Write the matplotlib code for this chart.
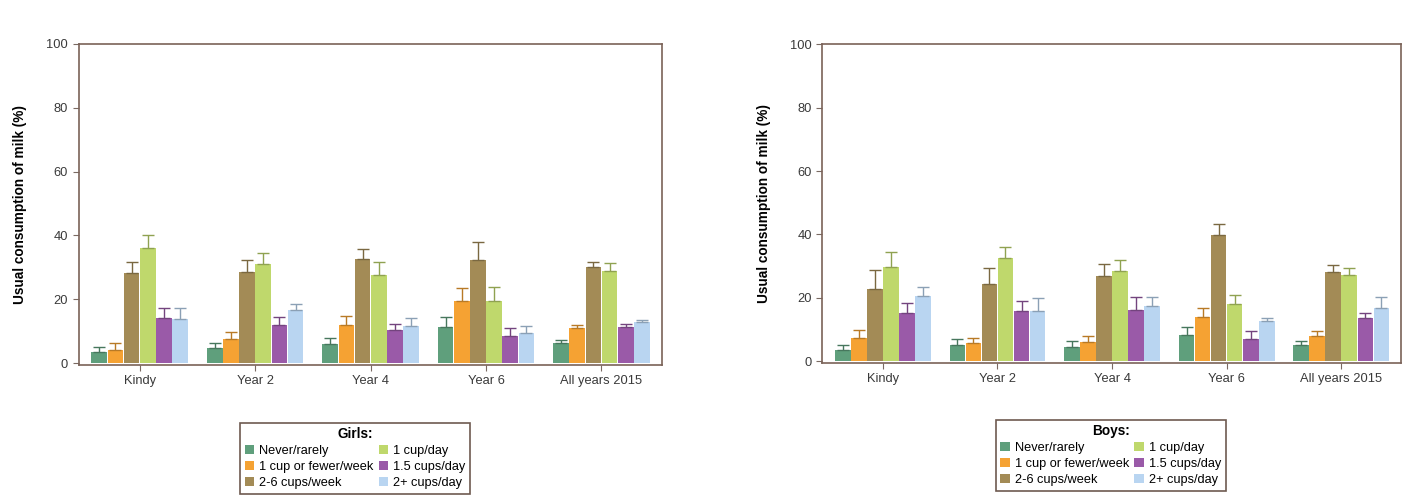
import matplotlib.pyplot as plt
import numpy as np
import matplotlib.colors as mcolors

plt.rcParams['font.family'] = ['Liberation Sans', 'DejaVu Sans']

groups = ["Kindy", "Year 2", "Year 4", "Year 6", "All years 2015"]
labels = ["Never/rarely", "1 cup or fewer/week", "2-6 cups/week",
          "1 cup/day", "1.5 cups/day", "2+ cups/day"]
colors = ["#5f9f7c", "#f5a233", "#a38b56", "#bfd86c", "#9a5aa8", "#b9d5f1"]

# girls, one list per milk category (values across the 5 groups)
girls = [
    [3.5, 4.6, 6.0, 11.2, 6.4],
    [4.2, 7.7, 11.9, 19.4, 10.9],
    [28.2, 28.4, 32.6, 32.3, 30.2],
    [36.0, 30.9, 27.6, 19.4, 28.8],
    [14.2, 11.8, 10.3, 8.5, 11.4],
    [13.8, 16.6, 11.6, 9.3, 12.9],
]
girls_err = [
    [1.6, 1.8, 2.0, 3.3, 0.8],
    [2.2, 2.0, 2.8, 4.2, 1.0],
    [3.6, 4.0, 3.0, 5.7, 1.6],
    [4.0, 3.5, 4.0, 4.5, 2.4],
    [3.0, 2.7, 2.0, 2.4, 1.0],
    [3.5, 2.0, 2.4, 2.3, 0.6],
]

boys = [
    [3.4, 5.2, 4.5, 8.4, 5.2],
    [7.3, 5.8, 6.0, 13.8, 8.0],
    [22.7, 24.4, 26.9, 39.7, 28.2],
    [29.8, 32.7, 28.5, 18.1, 27.2],
    [15.2, 15.7, 16.0, 7.0, 13.6],
    [20.6, 15.8, 17.5, 12.8, 16.7],
]
boys_err = [
    [1.8, 1.8, 2.0, 2.4, 1.3],
    [2.4, 1.5, 2.0, 3.1, 1.4],
    [6.0, 4.9, 3.9, 3.7, 2.1],
    [4.7, 3.3, 3.4, 2.8, 2.1],
    [3.3, 3.4, 4.2, 2.4, 1.6],
    [2.9, 4.1, 2.7, 0.8, 3.5],
]


def darker(c, f=0.75):
    r, g, b = mcolors.to_rgb(c)
    return (r * f, g * f, b * f)


def draw_panel(ax, values, errors, title, legend_x, legend_y):
    x = np.arange(len(groups))
    w = 0.14
    bars = []
    for i in range(len(labels)):
        pos = x + (i - 2.5) * w
        b = ax.bar(pos, values[i], w * 0.97, color=colors[i], label=labels[i], zorder=2)
        bars.append(b)
        ax.errorbar(pos, values[i], yerr=[np.zeros(len(groups)), errors[i]],
                    fmt="none", ecolor=darker(colors[i]), elinewidth=1,
                    capsize=4, capthick=1, zorder=3)
    ax.set_xlim(-0.53, 4.52)
    ax.set_ylim(-0.6, 100)
    ax.set_yticks([0, 20, 40, 60, 80, 100])
    ax.set_xticks(x)
    ax.set_xticklabels(groups)
    ax.tick_params(axis="both", labelsize=9.3, color="#7a6a62", labelcolor="#3a3a3a",
                   length=4)
    for s in ax.spines.values():
        s.set_color("#7a6258")
        s.set_linewidth(1.2)
    ax.set_ylabel("Usual consumption of milk (%)", fontsize=9.8, fontweight="bold",
                  labelpad=14)
    leg = ax.figure.legend(handles=bars, loc="upper center",
                           bbox_to_anchor=(legend_x, legend_y),
                           ncol=2, title=title, fontsize=9.2,
                           title_fontproperties={"weight": "bold", "size": 9.8},
                           handlelength=0.75, handleheight=0.75, handletextpad=0.4,
                           columnspacing=0.4, labelspacing=0.3, borderpad=0.35,
                           borderaxespad=0.0, fancybox=False, framealpha=1)
    leg.get_frame().set_edgecolor("#6e5a50")
    leg.get_frame().set_linewidth(1.2)


fig = plt.figure(figsize=(14.15, 4.98), dpi=100)
ax1 = fig.add_axes([0.0555, 0.267, 0.412, 0.645])
ax2 = fig.add_axes([0.581, 0.271, 0.409, 0.640])

draw_panel(ax1, girls, girls_err, "Girls:", 0.251, 0.151)
draw_panel(ax2, boys, boys_err, "Boys:", 0.785, 0.157)

fig.savefig("out.png", dpi=100)
